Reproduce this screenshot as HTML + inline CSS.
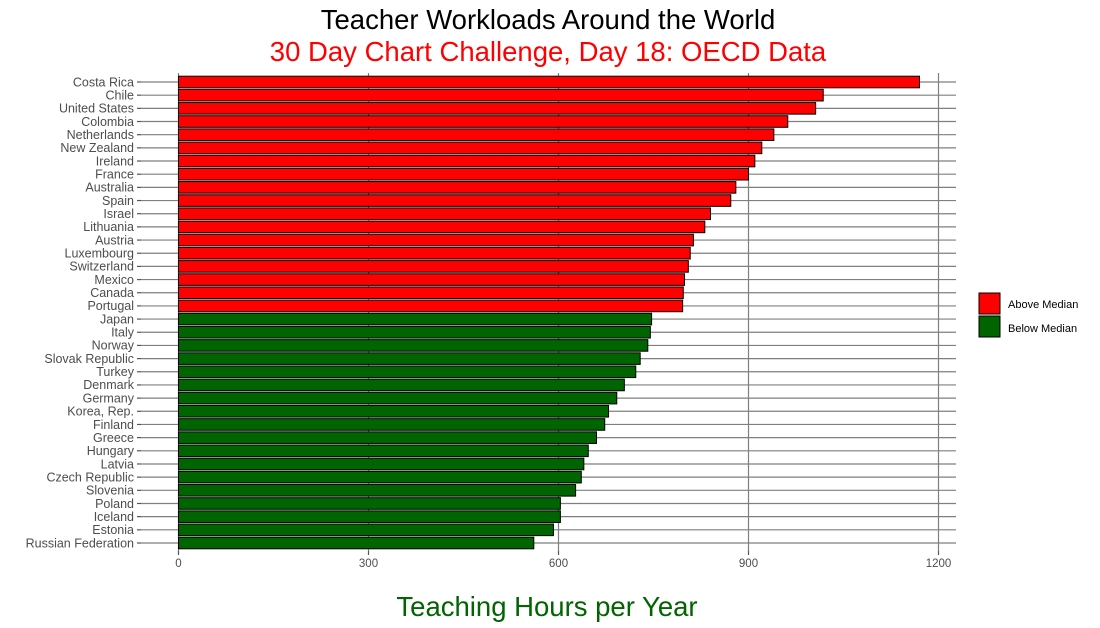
<!DOCTYPE html>
<html><head><meta charset="utf-8"><style>
body{margin:0;background:#fff;}
svg{display:block;font-family:"Liberation Sans",Arial,sans-serif;}
</style></head><body>
<svg id="chart" width="1100" height="628">
<text x="548" y="29" text-anchor="middle" font-size="27.5" fill="#000">Teacher Workloads Around the World</text>
<text x="548" y="61" text-anchor="middle" font-size="27.5" fill="#ff0000">30 Day Chart Challenge, Day 18: OECD Data</text>
<text x="547" y="616" text-anchor="middle" font-size="27.5" fill="#006400">Teaching Hours per Year</text>
<g id="plot"></g>
<g>
<rect x="979" y="293" width="21" height="21" fill="#ff0000" stroke="#000"/>
<text x="1008" y="308" font-size="11" fill="#000">Above Median</text>
<rect x="979" y="316" width="21" height="21" fill="#006400" stroke="#000"/>
<text x="1008" y="332" font-size="11" fill="#000">Below Median</text>
</g>
</svg>
<script>
const countries=["Costa Rica","Chile","United States","Colombia","Netherlands","New Zealand","Ireland","France","Australia","Spain","Israel","Lithuania","Austria","Luxembourg","Switzerland","Mexico","Canada","Portugal","Japan","Italy","Norway","Slovak Republic","Turkey","Denmark","Germany","Korea, Rep.","Finland","Greece","Hungary","Latvia","Czech Republic","Slovenia","Poland","Iceland","Estonia","Russian Federation"];
const hours=[1170,1018,1006,962,940,921,910,900,880,872,840,831,813,808,805,799,797,796,747,745,741,729,722,704,692,679,673,660,647,640,636,627,603,603,592,561];
const xTicks=[0,300,600,900,1200];
(function(){
const NS="http://www.w3.org/2000/svg";
const g=document.getElementById('plot');
const x0=178.5,xs=190/300;
const X=v=>x0+v*xs;
const y0=82,step=(543-82)/(countries.length-1);
const Y=i=>y0+i*step;
const sorted=[...hours].sort((a,b)=>a-b);
const n=sorted.length;
const median=n%2?sorted[(n-1)/2]:(sorted[n/2-1]+sorted[n/2])/2;
function el(t,a){const e=document.createElementNS(NS,t);for(const k in a)e.setAttribute(k,a[k]);g.appendChild(e);return e;}
const pLeft=141,pRight=956,pTop=73,pBottom=551;
countries.forEach((c,i)=>{
 const l=el('line',{x1:pLeft,x2:pRight,y1:Y(i),y2:Y(i),stroke:'#7f7f7f','stroke-width':1.2});
 
 
 const tk=el('line',{x1:137,x2:pLeft,y1:Y(i),y2:Y(i),stroke:'#555','stroke-width':1.2});
 
 
 const t=el('text',{x:134,y:Y(i)+4.3,'text-anchor':'end','font-size':12.5,fill:'#4d4d4d'});
 t.textContent=c;
 
 
});
xTicks.forEach(v=>{
 const l=el('line',{x1:X(v),x2:X(v),y1:pTop,y2:pBottom,stroke:'#7f7f7f','stroke-width':1.2});
 
 
 const tk=el('line',{x1:X(v),x2:X(v),y1:pBottom,y2:pBottom+4,stroke:'#555','stroke-width':1.2});
 
 
 const t=el('text',{x:X(v),y:567,'text-anchor':'middle','font-size':11.5,fill:'#4d4d4d'});
 t.textContent=v;
 
 
});
hours.forEach((h,i)=>{
 const r=el('rect',{x:X(0),y:Y(i)-5.8,width:X(h)-X(0),height:11.6,fill:h>median?'#ff0000':'#006400',stroke:'#000','stroke-width':1});
 
 
});
})();
</script>
</body></html>
